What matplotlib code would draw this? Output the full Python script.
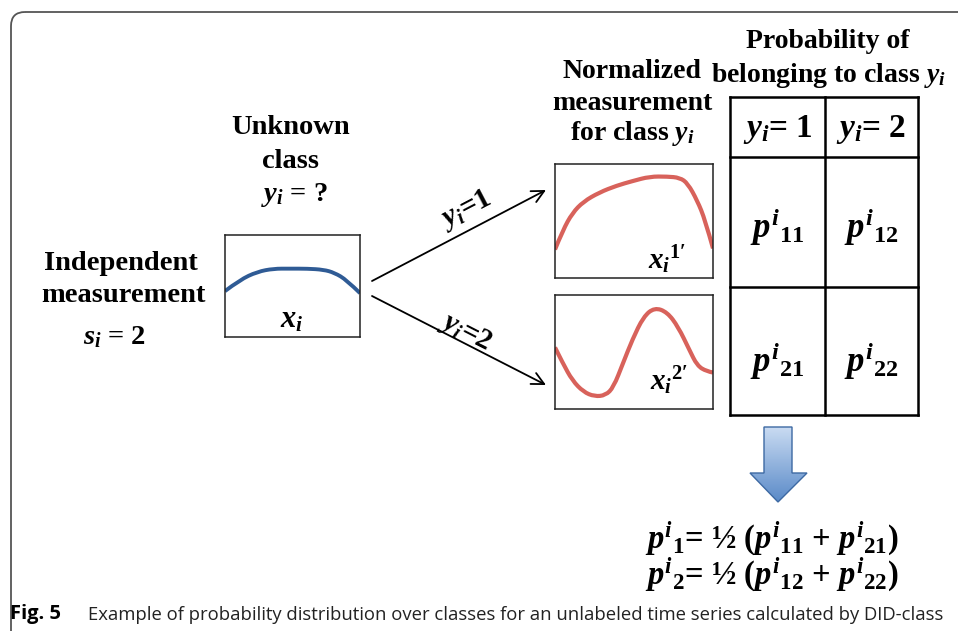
import matplotlib
matplotlib.use("Agg")
import numpy as np
import matplotlib.pyplot as plt
from matplotlib.patches import FancyBboxPatch, Polygon, PathPatch
from matplotlib.path import Path
from matplotlib.colors import LinearSegmentedColormap

plt.rcParams['font.family'] = ['Liberation Serif', 'DejaVu Serif']
plt.rcParams['font.weight'] = 'bold'
plt.rcParams['mathtext.fontset'] = 'custom'
plt.rcParams['mathtext.rm'] = 'Liberation Serif:bold'
plt.rcParams['mathtext.it'] = 'Liberation Serif:italic:bold'
plt.rcParams['mathtext.bf'] = 'Liberation Serif:bold'

# curves, time in [0,1], value in [0,1] of the box height
t_input = [0, 0.11, 0.24, 0.36, 0.48, 0.61, 0.73, 0.81, 0.90, 1.0]
v_input = [0.45, 0.56, 0.64, 0.67, 0.67, 0.67, 0.66, 0.63, 0.56, 0.43]

t_class1 = [0, 0.05, 0.11, 0.18, 0.28, 0.39, 0.49, 0.60, 0.71, 0.79, 0.84, 0.90, 0.95, 1.0]
v_class1 = [0.25, 0.42, 0.57, 0.67, 0.75, 0.81, 0.85, 0.89, 0.89, 0.88, 0.83, 0.68, 0.51, 0.26]

t_class2 = [0, 0.05, 0.11, 0.18, 0.25, 0.32, 0.37, 0.43, 0.49, 0.56, 0.63, 0.71, 0.78, 0.85,
            0.90, 0.96, 1.0]
v_class2 = [0.54, 0.40, 0.25, 0.15, 0.11, 0.12, 0.19, 0.40, 0.61, 0.81, 0.89, 0.85, 0.72, 0.52,
            0.38, 0.33, 0.32]

header_labels = [r'$y_i$= 1', r'$y_i$= 2']
cell_labels = [[r'$p^i{}_{11}$', r'$p^i{}_{12}$'],
               [r'$p^i{}_{21}$', r'$p^i{}_{22}$']]
formulas = [r'$p^i{}_1$= ½ ($p^i{}_{11}$ + $p^i{}_{21}$)',
            r'$p^i{}_2$= ½ ($p^i{}_{12}$ + $p^i{}_{22}$)']

W, H = 958, 631
fig = plt.figure(figsize=(W / 100, H / 100), dpi=100)
ax = fig.add_axes([0, 0, 1, 1])
ax.set_xlim(0, W)
ax.set_ylim(H, 0)
ax.axis('off')

# outer frame
frame = FancyBboxPatch((11, 12), 1100, 800, boxstyle='round,pad=0,rounding_size=14',
                       fc='none', ec='#555555', lw=1.3)
ax.add_patch(frame)


def smooth_path(t, v):
    # quadratic bezier through midpoints, drawn by matplotlib's Path
    pts = list(zip(t, v))
    verts = [pts[0]]
    codes = [Path.MOVETO]
    for i in range(1, len(pts) - 2):
        mid = ((pts[i][0] + pts[i + 1][0]) / 2, (pts[i][1] + pts[i + 1][1]) / 2)
        verts += [pts[i], mid]
        codes += [Path.CURVE3, Path.CURVE3]
    verts += [pts[-2], pts[-1]]
    codes += [Path.CURVE3, Path.CURVE3]
    return Path(verts, codes)


def curve_box(x0, y0, x1, y1, t, v, color, lw):
    a = fig.add_axes([x0 / W, 1 - y1 / H, (x1 - x0) / W, (y1 - y0) / H])
    a.patch.set_alpha(0)
    a.add_patch(PathPatch(smooth_path(t, v), fc='none', ec=color, lw=lw,
                          capstyle='butt', joinstyle='round'))
    a.set_xlim(0, 1)
    a.set_ylim(0, 1)
    a.set_xticks([])
    a.set_yticks([])
    for s in a.spines.values():
        s.set_color('#222222')
        s.set_linewidth(1.1)
    return a


curve_box(225, 235, 360, 337, t_input, v_input, '#2f5b95', 2.8)
curve_box(555, 164, 713, 278, t_class1, v_class1, '#d8625b', 3.0)
curve_box(555, 295, 713, 409, t_class2, v_class2, '#d8625b', 3.0)

# left texts
ax.text(121, 263, 'Independent', fontsize=20.5, ha='center', va='center')
ax.text(123, 296, 'measurement', fontsize=20.5, ha='center', va='center')
ax.text(115, 337, r'$s_i$ = 2', fontsize=20.5, ha='center', va='center')

ax.text(291, 128, 'Unknown', fontsize=20.5, ha='center', va='center')
ax.text(291, 161, 'class', fontsize=20.5, ha='center', va='center')
ax.text(294, 195, r'$y_i$ = ?', fontsize=20.5, ha='center', va='center')
ax.text(292, 320, r'$x_i$', fontsize=22, ha='center', va='center')

# branch arrows
ax.annotate('', xy=(546, 190), xytext=(372, 281),
            arrowprops=dict(arrowstyle='->', lw=1.3, color='black', mutation_scale=22,
                            shrinkA=0, shrinkB=0))
ax.annotate('', xy=(546, 385), xytext=(372, 296),
            arrowprops=dict(arrowstyle='->', lw=1.3, color='black', mutation_scale=22,
                            shrinkA=0, shrinkB=0))
ax.text(466, 210, r'$y_i$=1', fontsize=21, ha='center', va='center', rotation=27.5)
ax.text(466, 332, r'$y_i$=2', fontsize=21, ha='center', va='center', rotation=-27)

ax.text(667, 260, r"$x_i{}^{1\prime}$", fontsize=21, ha='center', va='center')
ax.text(669, 381, r"$x_i{}^{2\prime}$", fontsize=21, ha='center', va='center')

# normalized label
ax.text(632, 71, 'Normalized', fontsize=20, ha='center', va='center')
ax.text(632, 103, 'measurement', fontsize=20, ha='center', va='center')
ax.text(632, 134, r'for class $y_i$', fontsize=20, ha='center', va='center')

# probability table
ax.text(828, 42, 'Probability of', fontsize=20, ha='center', va='center')
ax.text(828, 75, r'belonging to class $y_i$', fontsize=20, ha='center', va='center')

tx0, tx1, tmid = 730, 918, 825
ty0, thead, trow, ty1 = 97, 157, 287, 415
for x in (tx0, tmid, tx1):
    ax.plot([x, x], [ty0, ty1], color='black', lw=1.8)
for y in (ty0, thead, trow, ty1):
    ax.plot([tx0, tx1], [y, y], color='black', lw=1.8)

col_c = [(tx0 + tmid) / 2, (tmid + tx1) / 2]
for j, lab in enumerate(header_labels):
    ax.text(col_c[j], 129, lab, fontsize=24, ha='center', va='center')
row_c = [(thead + trow) / 2 + 5, (trow + ty1) / 2 + 10]
for i in range(2):
    for j in range(2):
        ax.text(col_c[j], row_c[i], cell_labels[i][j], fontsize=25, ha='center', va='center')

# down arrow with gradient
arrow_xy = [(764, 427), (792, 427), (792, 473), (807, 473), (778, 502), (750, 473), (764, 473)]
poly = Polygon(arrow_xy, closed=True, fc='none', ec='#3d69a3', lw=1.0, zorder=3)
ax.add_patch(poly)
cmap = LinearSegmentedColormap.from_list('arr', ['#c9dbf2', '#5a8ac8'])
grad = np.linspace(0, 1, 100).reshape(-1, 1)
im = ax.imshow(grad, cmap=cmap, extent=(750, 807, 502, 427), aspect='auto', zorder=2)
im.set_clip_path(poly)
ax.set_xlim(0, W)
ax.set_ylim(H, 0)

# formulas
ax.text(772, 539, formulas[0], fontsize=23.5, ha='center', va='center')
ax.text(772, 575, formulas[1], fontsize=23.5, ha='center', va='center')

# caption
cap_font = ['Open Sans', 'DejaVu Sans']
ax.text(10, 614, 'Fig. 5', fontsize=14.5, family=cap_font, fontweight='bold',
        ha='left', va='center')
ax.text(88, 615, 'Example of probability distribution over classes for an unlabeled time '
        'series calculated by DID-class', fontsize=13.3, family=cap_font,
        fontweight='normal', ha='left', va='center', color='#222222')

fig.savefig('out.png', dpi=100)
